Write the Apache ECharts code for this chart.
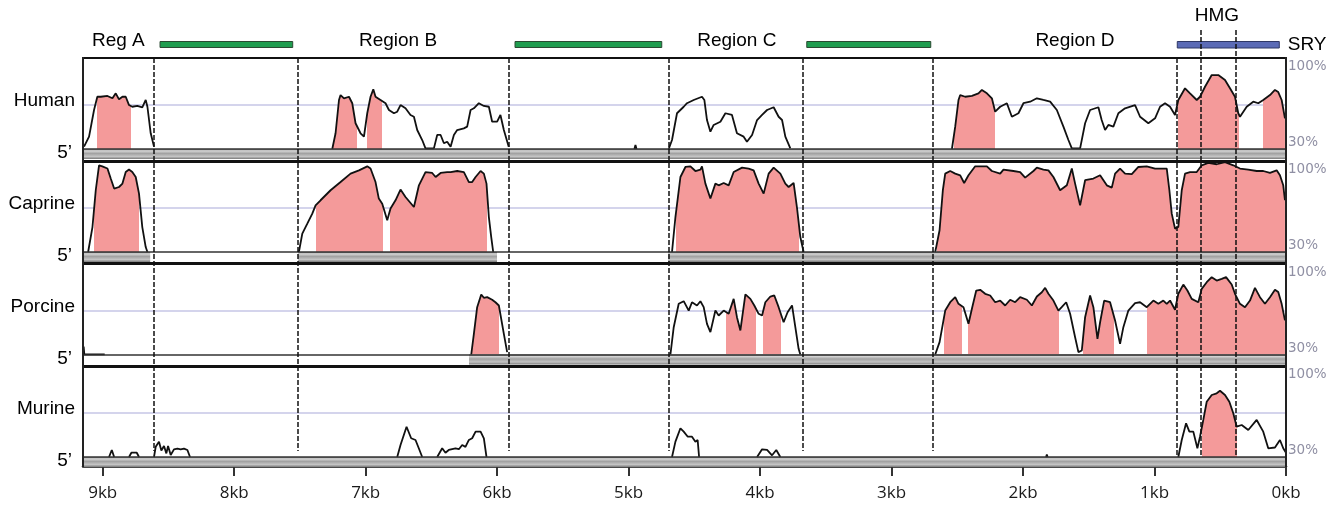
<!DOCTYPE html>
<html><head><meta charset="utf-8">
<script src="https://cdn.jsdelivr.net/npm/echarts@6/dist/echarts.min.js"></script>
<style>html,body{margin:0;padding:0;background:#fff}#c{width:1339px;height:506px}</style>
</head><body><div id="c"></div>
<script>
// ---------------- DATA ----------------
const species = ['Human', 'Caprine', 'Porcine', 'Murine'];
const kbTicks = [9, 8, 7, 6, 5, 4, 3, 2, 1, 0];
const xMaxKb = 9.15;
const thresholdPct = 64;
const regionBoundaryKb = [8.613, 7.516, 5.915, 4.698, 3.676, 2.687];
const sryStartKb = 0.831;
const hmgBoundaryKb = [0.646, 0.383];
const intergenicBarsKb = [[7.555, 8.564], [4.748, 5.864], [2.702, 3.645]];
const sryBarKb = [0.051, 0.827];
const regionNames = ['Reg A', 'Region B', 'Region C', 'Region D'];
const regionNameKb = [8.881, 6.754, 4.177, 1.605];
const hmgName = 'HMG', hmgNameKb = 0.525, sryName = 'SRY';

// conservation curves: [kb, percent identity]
const humanA = [[9.142,31.8],[9.104,39.5],[9.066,60],[9.041,70.2],[9.015,70.2],[8.964,70.8],[8.926,69],[8.901,72.8],[8.876,68.2],[8.85,70.2],[8.825,70.2],[8.8,63.8],[8.775,62.5],[8.737,63.1],[8.699,62.1],[8.673,67.7],[8.66,62.5],[8.635,42.1],[8.61,31.8]];
const humanB = [[7.254,30],[7.229,42.1],[7.203,67.7],[7.191,71.5],[7.165,69],[7.127,70.2],[7.102,65.2],[7.077,49.8],[7.039,42.1],[7.013,39.5],[6.988,57.5],[6.963,70.2],[6.942,75.9],[6.925,70.2],[6.887,67.7],[6.849,65.2],[6.823,60],[6.785,57.5],[6.76,58.7],[6.735,63.8],[6.697,61.3],[6.659,56.2],[6.633,54.8],[6.608,44.6],[6.57,36.9],[6.545,30.5],[6.481,30.5],[6.456,40.8],[6.43,40.8],[6.405,34.4],[6.38,35.6],[6.354,31.8],[6.329,40.8],[6.304,44.6],[6.253,45.9],[6.228,47.2],[6.202,60],[6.177,61.3],[6.139,65.2],[6.101,63.1],[6.063,62.5],[6.038,51],[6.0,51],[5.975,56.2],[5.949,44.6],[5.912,31.8]];
const humanBlip = [[4.956,30],[4.948,33],[4.94,30]];
const humanC = [[4.695,30],[4.67,36.9],[4.632,57.5],[4.581,62.5],[4.556,65.2],[4.505,67.7],[4.442,70.2],[4.424,67.7],[4.404,52.3],[4.378,43.3],[4.353,48.5],[4.302,51],[4.264,57.5],[4.214,56.2],[4.176,42.1],[4.125,39.5],[4.1,35.6],[4.061,40.8],[4.023,52.3],[3.985,56.2],[3.947,60],[3.897,62.1],[3.859,54.8],[3.833,52.3],[3.808,39.5],[3.77,30.5]];
const humanD = [[2.541,30],[2.516,47.2],[2.491,67.7],[2.478,71.5],[2.44,70.2],[2.389,70.8],[2.339,72.8],[2.313,75.4],[2.275,72.8],[2.237,69],[2.212,58.7],[2.174,62.5],[2.123,65.2],[2.085,54.8],[2.035,57.5],[1.997,65.2],[1.946,66.4],[1.895,69],[1.845,67.7],[1.794,66.4],[1.743,60],[1.693,47.2],[1.655,36.9],[1.629,30.5],[1.566,30.5],[1.528,49.8],[1.49,60],[1.427,62.1],[1.402,52.3],[1.376,44.6],[1.351,48.5],[1.313,47.2],[1.275,57.5],[1.224,61.3],[1.148,63.8],[1.11,54.8],[1.047,49.8],[0.996,53.6],[0.958,62.5],[0.92,65.2],[0.882,62.5],[0.844,56.2],[0.819,67.7],[0.768,76.7],[0.73,72.8],[0.679,67.7],[0.654,70.2],[0.616,77.9],[0.565,86.9],[0.515,86.9],[0.464,83.1],[0.426,76.7],[0.388,70.2],[0.363,57.5],[0.35,54.8],[0.299,62.5],[0.249,66.4],[0.211,65.2],[0.173,67.7],[0.122,71.5],[0.084,75.4],[0.059,73.8],[0.033,67.7],[0.008,53.6]];

const caprineA = [[9.111,30],[9.078,49.2],[9.053,77.5],[9.028,96.7],[9.003,95.9],[8.964,94.2],[8.939,86.5],[8.913,78.8],[8.876,80],[8.85,82.6],[8.825,91.5],[8.8,93.4],[8.775,91.5],[8.749,87.7],[8.724,74.9],[8.699,49.2],[8.673,33.8],[8.66,30]];
const caprineB = [[7.508,30],[7.482,44.2],[7.444,51.8],[7.406,59.5],[7.381,65.9],[7.343,69.8],[7.267,77.5],[7.191,83.8],[7.115,90.3],[7.051,92.8],[6.988,95.9],[6.963,94.2],[6.925,83.8],[6.9,71.1],[6.874,67.2],[6.836,54.4],[6.811,63.4],[6.773,69.8],[6.735,78],[6.697,72.3],[6.633,64.6],[6.595,81.3],[6.545,91.5],[6.494,90.8],[6.468,87.7],[6.43,90.8],[6.38,91.5],[6.354,91.5],[6.304,92.3],[6.253,91.5],[6.215,83.8],[6.19,83.8],[6.164,87.7],[6.126,92.3],[6.101,90.3],[6.081,82.6],[6.063,56.9],[6.045,41.5],[6.03,30]];
const caprineC = [[4.67,30],[4.644,56.9],[4.606,87.7],[4.568,95.4],[4.53,95.9],[4.492,92.3],[4.454,93.4],[4.442,95.9],[4.416,82.6],[4.378,71.1],[4.34,82.6],[4.315,81.3],[4.277,83.1],[4.239,81.3],[4.201,91.5],[4.137,94.9],[4.087,94.2],[4.049,92.8],[4.011,82.6],[3.973,74.9],[3.935,90.3],[3.897,94.9],[3.846,90.3],[3.808,82.6],[3.783,80],[3.745,83.1],[3.72,64.6],[3.694,41.5],[3.669,30]];
const caprineD = [[2.668,30],[2.635,46.7],[2.61,77.5],[2.592,90.3],[2.554,92.3],[2.516,90.3],[2.478,89],[2.448,83.1],[2.415,89],[2.364,95.9],[2.275,95.9],[2.237,92.3],[2.174,90.3],[2.149,93.4],[2.073,92.3],[2.022,91.5],[1.984,87.2],[1.921,92.3],[1.895,94.9],[1.845,93.4],[1.807,92.8],[1.769,87.7],[1.718,77.5],[1.667,81.3],[1.629,94.2],[1.604,82.6],[1.566,65.9],[1.528,85.2],[1.465,86.5],[1.414,89],[1.363,81.3],[1.325,79.5],[1.3,90.3],[1.262,94.2],[1.224,90.3],[1.173,89.9],[1.123,95.4],[1.059,95.9],[0.996,94.2],[0.945,94.2],[0.907,94.2],[0.887,77.5],[0.869,59.5],[0.844,48],[0.819,49.2],[0.793,77.5],[0.768,90.3],[0.73,91.5],[0.679,91.5],[0.641,96.7],[0.591,98.5],[0.527,97.5],[0.464,99.2],[0.401,96.7],[0.35,94.2],[0.287,93.4],[0.223,92.3],[0.173,92.3],[0.122,90.8],[0.071,92.8],[0.046,89],[0.021,81.3],[0.008,69.8]];

const porcineA = [[9.145,36],[9.14,30],[8.985,30]];
const porcineB = [[6.197,30],[6.177,45.9],[6.152,66.4],[6.121,76.2],[6.101,73.6],[6.076,74.1],[6.038,72.1],[6.013,70.2],[5.987,67.7],[5.975,67.7],[5.949,45.9],[5.924,31.8]];
const porcineC = [[4.682,30],[4.657,51],[4.619,69],[4.581,71],[4.543,63.8],[4.518,70.2],[4.48,67.7],[4.454,71],[4.429,66.4],[4.404,53.6],[4.378,47.2],[4.34,63.8],[4.315,60],[4.277,63.8],[4.239,61.3],[4.201,72.8],[4.176,58.7],[4.15,48.5],[4.112,76.2],[4.074,72.8],[4.044,67.7],[4.011,61.3],[3.985,60],[3.96,70.2],[3.922,74.6],[3.892,75.4],[3.859,66.4],[3.821,54.8],[3.791,62.5],[3.757,67.7],[3.732,51],[3.707,34.4],[3.694,30]];
const porcineD = [[2.668,30],[2.635,39.5],[2.61,53.6],[2.592,63.8],[2.554,70.2],[2.516,74.1],[2.491,69],[2.453,66.4],[2.415,53.6],[2.389,65.2],[2.356,79.2],[2.326,79.8],[2.288,76.7],[2.25,75.4],[2.212,70.2],[2.174,71.5],[2.136,67.7],[2.098,72.1],[2.06,70.2],[2.022,74.1],[1.971,72.1],[1.933,67.7],[1.895,74.6],[1.857,77.9],[1.832,81.3],[1.807,76.7],[1.769,71.5],[1.731,63.8],[1.706,66.4],[1.672,70.2],[1.642,61.3],[1.604,43.3],[1.579,31.8],[1.553,33.1],[1.528,58.7],[1.49,75.4],[1.465,66.4],[1.434,42.1],[1.414,54.8],[1.383,71.5],[1.338,70.2],[1.3,56.2],[1.262,38.2],[1.237,51],[1.199,63.8],[1.148,69.5],[1.11,70.2],[1.059,66.4],[1.009,71.5],[0.971,69],[0.933,71.5],[0.907,69],[0.882,71.5],[0.844,64.4],[0.819,76.7],[0.781,83.8],[0.75,79.2],[0.717,72.8],[0.667,70.2],[0.641,80.5],[0.603,85.6],[0.565,89.5],[0.527,86.9],[0.489,88.2],[0.456,89.5],[0.413,83.8],[0.388,76.7],[0.35,69],[0.312,66.4],[0.274,71.5],[0.236,81.3],[0.198,74.1],[0.16,69],[0.122,74.1],[0.084,79.8],[0.059,78],[0.033,69],[0.008,56.2]];

const murineA1 = [[8.952,30],[8.931,35.4],[8.913,30]];
const murineA2 = [[8.8,30],[8.782,33.3],[8.741,33.3],[8.724,30]];
const murineA3 = [[8.61,30],[8.597,37.9],[8.572,41.8],[8.554,35],[8.534,38.5],[8.516,32.8],[8.503,38.5],[8.483,31.5],[8.458,35.9],[8.432,36.5],[8.407,35.9],[8.382,36.5],[8.356,35.4],[8.336,30]];
const murineB1 = [[6.76,30],[6.735,39.2],[6.689,53.3],[6.654,44.4],[6.621,43.1],[6.596,36.7],[6.57,30]];
const murineB2 = [[6.456,30],[6.418,36.7],[6.393,33.3],[6.368,35.4],[6.354,34.8],[6.317,36.7],[6.291,36],[6.266,39.2],[6.241,37.8],[6.215,43.1],[6.19,44.4],[6.164,49.5],[6.126,49.5],[6.101,44.4],[6.081,30]];
const murineC1 = [[4.67,30],[4.644,41.8],[4.606,52.1],[4.581,49.5],[4.55,45.6],[4.518,45.6],[4.492,41.8],[4.475,43.1],[4.464,30]];
const murineC2 = [[4.023,30],[3.985,35.9],[3.947,35.4],[3.909,31.3],[3.877,35.4],[3.846,30]];
const murineD1 = [[1.825,30],[1.819,31.8],[1.813,30]];
const murineD2 = [[0.819,30],[0.793,43.1],[0.76,55.9],[0.735,49.5],[0.705,49.5],[0.674,36.7],[0.654,45.6],[0.629,58.5],[0.603,72.5],[0.565,77.7],[0.527,79],[0.502,81],[0.464,77.7],[0.431,72.5],[0.401,63.6],[0.375,53.3],[0.337,54.6],[0.287,50.8],[0.223,58.5],[0.173,49.5],[0.135,36.7],[0.084,37.3],[0.046,43.1],[0.021,36.7],[0.0,33.3]];

// conserved (shaded) intervals, kb
const humanPink = [[8.787,9.041],[6.879,6.993],[7.069,7.254],[2.212,2.528],[0.355,0.819],[0,0.178]];
const caprinePink = [[8.724,9.066],[6.869,7.381],[6.076,6.816],[3.705,4.639],[0,2.656]];
const porcinePink = [[5.987,6.197],[4.032,4.257],[3.839,3.981],[2.465,2.605],[1.723,2.415],[1.307,1.546],[0,1.054]];
const murinePink = [[0.370,0.641]];

// aligned sequence intervals (grey strand bar), kb
const humanAligned = [[0, 9.15]];
const caprineAligned = [[8.639, 9.15], [6.001, 7.514], [0, 4.70]];
const porcineAligned = [[0, 6.214]];
const murineAligned = [[0, 9.15]];

// ---------------- LAYOUT ----------------
const LEFT = 83, RIGHT = 53, CH = 506;
const panelTop = [58, 161, 263.5, 366];
const panelH = 91, strandH = 10;
const font = 'Liberation Sans, Arial, sans-serif';
const FS = 19;

const panels = [
  {segs: [humanA, humanB, humanBlip, humanC, humanD], pink: humanPink, aligned: humanAligned},
  {segs: [caprineA, caprineB, caprineC, caprineD], pink: caprinePink, aligned: caprineAligned},
  {segs: [porcineA, porcineB, porcineC, porcineD], pink: porcinePink, aligned: porcineAligned},
  {segs: [murineA1, murineA2, murineA3, murineB1, murineB2, murineC1, murineC2, murineD1, murineD2], pink: murinePink, aligned: murineAligned}
];

function joinSegs(segs) {
  const out = [];
  segs.forEach((s, j) => {
    if (j > 0) { const prev = segs[j - 1]; out.push([(prev[prev.length - 1][0] + s[0][0]) / 2, '-']); }
    s.forEach(p => out.push(p));
  });
  return out;
}

const PINK = '#f49a9a';
const grids = [], xAxes = [], yAxes = [], series = [], visualMaps = [];

panels.forEach((p, i) => {
  grids.push({left: LEFT, right: RIGHT, top: panelTop[i], height: panelH});
  const last = i === panels.length - 1;
  xAxes.push({
    gridIndex: i, type: 'value', min: 0, max: xMaxKb, inverse: true, show: last,
    offset: strandH - 1,
    axisLine: {show: true, lineStyle: {color: '#111', width: 2.5}},
    axisTick: {show: true, customValues: kbTicks, length: 10, lineStyle: {color: '#333', width: 2}},
    axisLabel: {customValues: kbTicks, formatter: v => v + 'kb', margin: 19,
      fontFamily: 'Open Sans', fontSize: 17, color: '#1a1a1a'},
    splitLine: {show: false}
  });
  yAxes.push({
    gridIndex: i, type: 'value', min: 30, max: 100, position: 'left',
    axisLine: {show: false}, axisTick: {show: false}, splitLine: {show: false},
    axisLabel: {
      customValues: [30, 67], margin: 8,
      formatter: v => v === 30 ? '{f|5\u2019}' : '{s|' + species[i] + '}',
      rich: {
        f: {fontFamily: font, fontSize: FS, color: '#000', padding: [8, 3, 0, 0]},
        s: {fontFamily: font, fontSize: FS, color: '#000'}
      }
    }
  });
  yAxes.push({
    gridIndex: i, type: 'value', min: 30, max: 100, position: 'right',
    axisLine: {show: false}, axisTick: {show: false}, splitLine: {show: false},
    axisLabel: {
      customValues: [30, 100], margin: 2,
      formatter: v => v === 100 ? '{t|100%}' : '{b|30%}',
      rich: {
        t: {fontFamily: 'DejaVu Sans', fontSize: 13.5, color: '#8f8fa3', padding: [17, 0, 0, 0]},
        b: {fontFamily: 'DejaVu Sans', fontSize: 13.5, color: '#8f8fa3', padding: [0, 0, 13, 0]}
      }
    }
  });
  const data = joinSegs(p.segs);
  const areaIdx = series.length;
  series.push({
    type: 'line', xAxisIndex: i, yAxisIndex: 2 * i, data: data, silent: true,
    symbol: 'none', showSymbol: false, z: 2,
    lineStyle: {width: 0, opacity: 0},
    areaStyle: {opacity: 1, origin: 'start'},
    markLine: {silent: true, z: 1, symbol: ['none', 'none'], label: {show: false},
      lineStyle: {color: '#c6c6e6', width: 1.5, type: 'solid'},
      data: [{yAxis: thresholdPct}]}
  });
  series.push({
    type: 'line', xAxisIndex: i, yAxisIndex: 2 * i, data: data, silent: true,
    symbol: 'none', showSymbol: false, z: 3,
    lineStyle: {color: '#111', width: 1.8}
  });
  const pieces = p.pink.slice().sort((a, b) => a[0] - b[0]).map(iv => ({gte: iv[0], lte: iv[1], color: PINK}));
  visualMaps.push({type: 'piecewise', show: false, dimension: 0, seriesIndex: areaIdx,
    pieces: pieces, outOfRange: {color: 'rgba(0,0,0,0)'}});
});

// overlay grid (kb horizontally, layout px vertically)
const OV = panels.length;
grids.push({left: LEFT, right: RIGHT, top: 0, height: CH});
xAxes.push({gridIndex: OV, type: 'value', min: 0, max: xMaxKb, inverse: true, show: false});
yAxes.push({gridIndex: OV, type: 'value', min: 0, max: CH, inverse: true, show: false});
const ovY = yAxes.length - 1;

const strandGrad = {type: 'linear', x: 0, y: 0, x2: 0, y2: 1, colorStops: [
  {offset: 0, color: '#6a6a6a'}, {offset: 0.18, color: '#d6d6d6'}, {offset: 0.45, color: '#a2a2a2'},
  {offset: 0.75, color: '#c4c4c4'}, {offset: 1, color: '#7a7a7a'}]};

const areas = [];
panels.forEach((p, i) => {
  const base = panelTop[i] + panelH;
  p.aligned.forEach(iv => areas.push([
    {xAxis: iv[1], yAxis: base, itemStyle: {color: strandGrad, opacity: 1}},
    {xAxis: iv[0], yAxis: base + strandH}]));
});
intergenicBarsKb.forEach(b => areas.push([
  {xAxis: b[1], yAxis: 41.5, itemStyle: {color: '#1f9d4f', borderColor: '#2a4a32', borderWidth: 1, opacity: 1}},
  {xAxis: b[0], yAxis: 47.5}]));
areas.push([
  {xAxis: sryBarKb[1], yAxis: 41.5, itemStyle: {color: '#5b6bb6', borderColor: '#2f3866', borderWidth: 1, opacity: 1},
   label: {show: true, position: 'right', distance: 8, formatter: sryName, fontFamily: font, fontSize: FS, color: '#000'}},
  {xAxis: sryBarKb[0], yAxis: 48}]);

series.push({type: 'line', xAxisIndex: OV, yAxisIndex: ovY, data: [], silent: true,
  markArea: {silent: true, z: 1, label: {show: false}, data: areas}});

const frame = [];
const bottomY = panelTop[panelTop.length - 1] + panelH + strandH;
panels.forEach((p, i) => {
  const t = panelTop[i], base = t + panelH;
  frame.push([{coord: [xMaxKb, t], lineStyle: {color: '#111', width: i === 0 ? 2 : 3, type: 'solid'}}, {coord: [0, t]}]);
  frame.push([{coord: [xMaxKb, base], lineStyle: {color: '#333', width: 1.5, type: 'solid'}}, {coord: [0, base]}]);
});
frame.push([{coord: [xMaxKb, panelTop[0] - 1], lineStyle: {color: '#222', width: 2, type: 'solid'}}, {coord: [xMaxKb, bottomY]}]);
frame.push([{coord: [0, panelTop[0] - 1], lineStyle: {color: '#222', width: 2, type: 'solid'}}, {coord: [0, bottomY]}]);
series.push({type: 'line', xAxisIndex: OV, yAxisIndex: ovY, data: [], silent: true,
  markLine: {silent: true, z: 6, symbol: ['none', 'none'], label: {show: false}, data: frame}});

const dashStyle = {color: '#111', width: 1.5, type: [5, 2]};
const dashes = [];
regionBoundaryKb.forEach(k => dashes.push([{coord: [k, panelTop[0]], lineStyle: dashStyle}, {coord: [k, 451]}]));
dashes.push([{coord: [sryStartKb, panelTop[0]], lineStyle: dashStyle}, {coord: [sryStartKb, 457]}]);
hmgBoundaryKb.forEach(k => dashes.push([{coord: [k, 30], lineStyle: dashStyle}, {coord: [k, 457]}]));
series.push({type: 'line', xAxisIndex: OV, yAxisIndex: ovY, data: [], silent: true,
  markLine: {silent: true, z: 7, symbol: ['none', 'none'], label: {show: false}, data: dashes}});

const labelData = regionNames.map((n, i) => ({name: n, value: [regionNameKb[i], 41]}));
labelData.push({name: hmgName, value: [hmgNameKb, 16]});
series.push({type: 'scatter', xAxisIndex: OV, yAxisIndex: ovY, data: labelData, symbolSize: 0, clip: false, silent: true, z: 8,
  itemStyle: {color: 'rgba(0,0,0,0)', opacity: 1},
  label: {show: true, position: 'inside', formatter: '{b}', fontFamily: font, fontSize: FS, color: '#000',
    opacity: 1, textBorderWidth: 0, textBorderColor: 'transparent'}});

const chart = echarts.init(document.getElementById('c'));
chart.setOption({
  animation: false, backgroundColor: '#fff',
  grid: grids, xAxis: xAxes, yAxis: yAxes, visualMap: visualMaps, series: series
});
</script></body></html>
